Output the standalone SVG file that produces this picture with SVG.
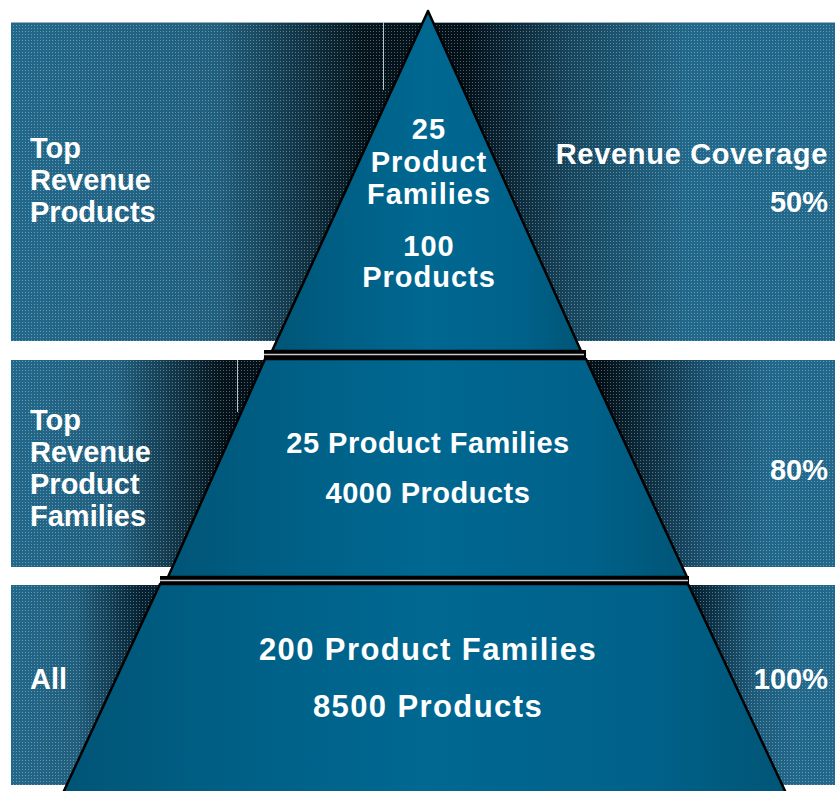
<svg xmlns="http://www.w3.org/2000/svg" width="835" height="791" viewBox="0 0 835 791">
<defs>
<style>
text{font-family:"Liberation Sans",Arial,sans-serif;font-weight:bold;font-size:29px;fill:#ffffff;}
.mid{text-anchor:middle;}
.end{text-anchor:end;}
.t1{letter-spacing:1px;}
.t2{letter-spacing:0.5px;}
.t3{font-size:31px;letter-spacing:1.4px;}
.r{letter-spacing:0.7px;}
.edge{stroke:#000;stroke-width:2.5;stroke-linejoin:round;}
.sep{fill:#000;}
.sepline{stroke:#c8c8c8;stroke-width:1.6;}
.panelline{stroke:#b8c4ca;stroke-width:1;}
</style>
<pattern id="dots" width="3" height="3" patternUnits="userSpaceOnUse">
<rect x="1" y="1" width="1" height="1" fill="#ffffff" fill-opacity="0.32"/>
</pattern>
<linearGradient id="g1" gradientUnits="userSpaceOnUse" x1="11" y1="0" x2="835" y2="0">
<stop offset="0" stop-color="#22688a"/>
<stop offset="0.25" stop-color="#215f7e"/>
<stop offset="0.43" stop-color="#04141c"/>
<stop offset="0.55" stop-color="#02101a"/>
<stop offset="0.68" stop-color="#17465e"/>
<stop offset="0.82" stop-color="#22688a"/>
<stop offset="1" stop-color="#22688a"/>
</linearGradient>
<linearGradient id="g2" gradientUnits="userSpaceOnUse" x1="11" y1="0" x2="835" y2="0">
<stop offset="0" stop-color="#22688a"/>
<stop offset="0.13" stop-color="#215f7e"/>
<stop offset="0.26" stop-color="#03121a"/>
<stop offset="0.72" stop-color="#03121a"/>
<stop offset="0.84" stop-color="#1a5170"/>
<stop offset="0.92" stop-color="#22688a"/>
<stop offset="1" stop-color="#22688a"/>
</linearGradient>
<linearGradient id="g3" gradientUnits="userSpaceOnUse" x1="11" y1="0" x2="835" y2="0">
<stop offset="0" stop-color="#22688a"/>
<stop offset="0.08" stop-color="#215f7e"/>
<stop offset="0.16" stop-color="#052030"/>
<stop offset="0.83" stop-color="#052030"/>
<stop offset="0.9" stop-color="#1d5a7a"/>
<stop offset="0.95" stop-color="#22688a"/>
<stop offset="1" stop-color="#22688a"/>
</linearGradient>
<linearGradient id="tier" gradientUnits="objectBoundingBox" x1="0" y1="0" x2="1" y2="0">
<stop offset="0" stop-color="#005576"/>
<stop offset="0.2" stop-color="#005e84"/>
<stop offset="0.5" stop-color="#006891"/>
<stop offset="0.8" stop-color="#00628b"/>
<stop offset="1" stop-color="#005576"/>
</linearGradient>
</defs>
<rect width="835" height="791" fill="#ffffff"/>

<g id="band1">
<rect x="11" y="22" width="824" height="319" fill="url(#g1)"/>
<rect x="11" y="22" width="824" height="319" fill="url(#dots)"/>
<line x1="11" y1="22.5" x2="835" y2="22.5" stroke="#9fb0b8" stroke-width="1"/>
<line class="panelline" x1="383.5" y1="22" x2="383.5" y2="90"/>
<text x="30" y="158">Top</text>
<text x="30" y="190">Revenue</text>
<text x="30" y="222">Products</text>
<text class="end r" x="828" y="164">Revenue Coverage</text>
<text class="end" x="828" y="212">50%</text>
</g>

<g id="band2">
<rect x="11" y="360" width="824" height="207" fill="url(#g2)"/>
<rect x="11" y="360" width="824" height="207" fill="url(#dots)"/>
<line class="panelline" x1="237.5" y1="360" x2="237.5" y2="412"/>
<text x="30" y="430">Top</text>
<text x="30" y="462">Revenue</text>
<text x="30" y="494">Product</text>
<text x="30" y="526">Families</text>
<text class="end" x="828" y="480">80%</text>
</g>

<g id="band3">
<rect x="11" y="585" width="824" height="200" fill="url(#g3)"/>
<rect x="11" y="585" width="824" height="200" fill="url(#dots)"/>
<text x="30" y="689">All</text>
<text class="end" x="828" y="689">100%</text>
</g>

<g id="tier1">
<polygon class="edge" points="428,11 581,351 272,351" fill="url(#tier)"/>
<text class="mid t1" x="429" y="139">25</text>
<text class="mid t1" x="429" y="172">Product</text>
<text class="mid t1" x="429" y="204">Families</text>
<text class="mid t1" x="429" y="256">100</text>
<text class="mid t1" x="429" y="287">Products</text>
</g>

<g id="separator1">
<rect class="sep" x="264" y="350" width="322" height="9"/>
<line class="sepline" x1="264" y1="354.5" x2="584" y2="354.5"/>
</g>

<g id="tier2">
<polygon class="edge" points="265,359 586,359 687,577 168,577" fill="url(#tier)"/>
<text class="mid t2" x="428" y="453">25 Product Families</text>
<text class="mid t2" x="428" y="503">4000 Products</text>
</g>

<g id="separator2">
<rect class="sep" x="160" y="576" width="529" height="8"/>
<line class="sepline" x1="160" y1="580.5" x2="688" y2="580.5"/>
</g>

<g id="tier3">
<polygon class="edge" points="160,584 688,584 786,793 63,793" fill="url(#tier)"/>
<text class="mid t3" x="428" y="660">200 Product Families</text>
<text class="mid t3" x="428" y="717">8500 Products</text>
</g>

<g id="connectors"/>
</svg>
